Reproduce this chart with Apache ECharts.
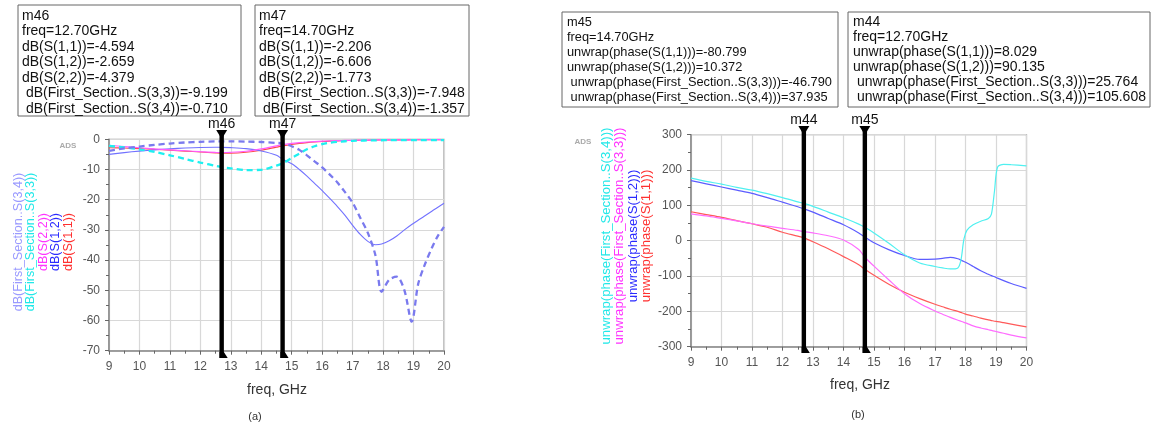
<!DOCTYPE html>
<html>
<head>
<meta charset="utf-8">
<script src="https://cdn.jsdelivr.net/npm/echarts@6/dist/echarts.min.js"></script>
<style>
html,body{margin:0;padding:0;background:#fff;}
#c{width:1165px;height:428px;}
</style>
</head>
<body>
<div id="c"></div>
<script>
// ---------- data: left panel (a), magnitude in dB ----------
const freqA = [9, 9.5, 10, 10.5, 11, 11.5, 12, 12.5, 12.7, 13, 13.5, 14, 14.5, 14.7, 15, 15.25, 15.5, 15.75, 16, 16.25, 16.5, 16.75, 17, 17.25, 17.5, 17.75, 17.95, 18.2, 18.45, 18.7, 18.94, 19.15, 19.35, 19.6, 19.8, 20];
const dbS11 = [-2.8, -2.9, -3.1, -3.35, -3.6, -3.9, -4.2, -4.5, -4.594, -4.6, -4.3, -3.6, -2.6, -2.206, -1.7, -1.35, -1.1, -0.9, -0.75, -0.62, -0.52, -0.44, -0.38, -0.33, -0.29, -0.26, -0.24, -0.22, -0.2, -0.18, -0.17, -0.16, -0.15, -0.14, -0.13, -0.12];
const dbS12 = [-5.0, -4.4, -3.9, -3.5, -3.15, -2.9, -2.72, -2.65, -2.659, -2.75, -3.1, -3.9, -5.3, -6.606, -8.1, -10.0, -12.2, -14.6, -17.0, -19.6, -22.3, -25.2, -28.5, -31.5, -33.8, -34.9, -34.7, -33.6, -32.0, -30.0, -28.2, -26.8, -25.5, -23.8, -22.5, -21.2];
const dbS22 = [-2.0, -2.4, -2.8, -3.2, -3.5, -3.8, -4.1, -4.35, -4.379, -4.3, -3.95, -3.2, -2.2, -1.773, -1.35, -1.1, -0.9, -0.75, -0.62, -0.52, -0.44, -0.38, -0.33, -0.29, -0.26, -0.23, -0.21, -0.19, -0.18, -0.17, -0.16, -0.15, -0.14, -0.13, -0.12, -0.11];
const dbS33 = [-2.2, -2.7, -3.3, -4.2, -5.3, -6.5, -7.7, -8.8, -9.199, -9.6, -10.2, -10.1, -8.7, -7.948, -6.2, -4.7, -3.3, -2.3, -1.6, -1.15, -0.85, -0.65, -0.5, -0.42, -0.37, -0.33, -0.31, -0.3, -0.29, -0.29, -0.28, -0.28, -0.28, -0.28, -0.28, -0.28];
const dbS34 = [-3.8, -3.0, -2.4, -1.85, -1.4, -1.05, -0.82, -0.71, -0.710, -0.7, -0.76, -0.9, -1.2, -1.357, -2.3, -3.5, -5.3, -7.3, -9.3, -11.7, -14.3, -17.5, -21, -26, -31, -38.5, -50.5, -46.5, -45.5, -50, -60.4, -48, -42, -36, -32, -29];

// ---------- data: right panel (b), unwrapped phase in degrees ----------
const freqB = [9, 9.5, 10, 10.5, 11, 11.5, 12, 12.5, 12.7, 13, 13.5, 14, 14.5, 14.7, 15, 15.5, 16, 16.5, 17, 17.25, 17.5, 17.75, 17.85, 17.95, 18.05, 18.25, 18.5, 18.75, 18.85, 18.95, 19.05, 19.25, 19.5, 20];
const phS34 = [177, 168, 160, 151, 143, 133, 122, 110, 105.608, 97, 81, 65, 47, 37.935, 22, -8, -40, -63, -73, -77, -80, -77, -55, 5, 30, 45, 55, 63, 75, 140, 208, 216, 215, 212];
const phS33 = [76, 70, 63, 56, 48, 41, 35, 29, 25.764, 22, 14, 2, -25, -46.790, -72, -112, -150, -178, -199, -208, -217, -225, -228, -231, -234, -241, -247, -252, -254, -256, -258, -262, -267, -275];
const phS12 = [170, 161, 152, 143, 134, 122, 109, 96, 90.135, 81, 63, 45, 22, 10.372, -6, -26, -42, -53, -52, -50, -47, -51, -55, -59, -63, -73, -85, -95, -99, -102, -106, -113, -121, -135];
const phS11 = [82, 74, 66, 57, 48, 38, 24, 13, 8.029, -3, -23, -45, -68, -80.799, -98, -124, -146, -164, -180, -187, -194, -200, -203, -206, -209, -213, -219, -224, -226, -228, -229, -232, -236, -244];

// ---------- axis ticks ----------
const xTicks = {min: 9, max: 20, step: 1};
const yTicksA = {min: -70, max: 0, step: 10};
const yTicksB = {min: -300, max: 300, step: 100};

// ---------- markers ----------
const markersA = [{name: 'm46', f: 12.7}, {name: 'm47', f: 14.7}];
const markersB = [{name: 'm44', f: 12.7}, {name: 'm45', f: 14.7}];

const boxM46 = ['m46', 'freq=12.70GHz', 'dB(S(1,1))=-4.594', 'dB(S(1,2))=-2.659', 'dB(S(2,2))=-4.379', ' dB(First_Section..S(3,3))=-9.199', ' dB(First_Section..S(3,4))=-0.710'];
const boxM47 = ['m47', 'freq=14.70GHz', 'dB(S(1,1))=-2.206', 'dB(S(1,2))=-6.606', 'dB(S(2,2))=-1.773', ' dB(First_Section..S(3,3))=-7.948', ' dB(First_Section..S(3,4))=-1.357'];
const boxM45 = ['m45', 'freq=14.70GHz', 'unwrap(phase(S(1,1)))=-80.799', 'unwrap(phase(S(1,2)))=10.372', ' unwrap(phase(First_Section..S(3,3)))=-46.790', ' unwrap(phase(First_Section..S(3,4)))=37.935'];
const boxM44 = ['m44', 'freq=12.70GHz', 'unwrap(phase(S(1,1)))=8.029', 'unwrap(phase(S(1,2)))=90.135', ' unwrap(phase(First_Section..S(3,3)))=25.764', ' unwrap(phase(First_Section..S(3,4)))=105.608'];

const legendA = [
  {t: 'dB(First_Section..S(3,4))', c: '#9a9aff'},
  {t: 'dB(First_Section..S(3,3))', c: '#22e8e8'},
  {t: 'dB(S(2,2))', c: '#ff33ff'},
  {t: 'dB(S(1,2))', c: '#2a2aff'},
  {t: 'dB(S(1,1))', c: '#ff3030'}
];
const legendB = [
  {t: 'unwrap(phase(First_Section..S(3,4)))', c: '#22e8e8'},
  {t: 'unwrap(phase(First_Section..S(3,3)))', c: '#ff33ff'},
  {t: 'unwrap(phase(S(1,2)))', c: '#2a2aff'},
  {t: 'unwrap(phase(S(1,1)))', c: '#ff3030'}
];

const FONT = '"Liberation Sans", Arial, sans-serif';
const zip = (xs, ys) => xs.map((x, i) => [x, ys[i]]);

function xAxisCfg(gi) {
  return {
    type: 'value', gridIndex: gi, min: xTicks.min, max: xTicks.max, interval: xTicks.step,
    axisLine: {show: true, onZero: false, lineStyle: {color: '#888', width: 1.5}},
    axisTick: {show: true, length: 4, lineStyle: {color: '#666'}},
    minorTick: {show: true, splitNumber: 2, length: 3, lineStyle: {color: '#666'}},
    axisLabel: {color: '#555', fontSize: 12, fontFamily: FONT, margin: 10},
    splitLine: {show: true, lineStyle: {color: '#d8d8d8', width: 1.2}}
  };
}
function yAxisCfg(gi, t) {
  return {
    type: 'value', gridIndex: gi, min: t.min, max: t.max, interval: t.step,
    axisLine: {show: true, onZero: false, lineStyle: {color: '#888', width: 1.5}},
    axisTick: {show: true, length: 4, lineStyle: {color: '#666'}},
    minorTick: {show: true, splitNumber: 2, length: 3, lineStyle: {color: '#666'}},
    axisLabel: {color: '#555', fontSize: 12, fontFamily: FONT, margin: 9},
    splitLine: {show: true, lineStyle: {color: '#d8d8d8', width: 1.2}}
  };
}
function line(gi, xs, ys, color, width, dashed, z) {
  return {
    type: 'line', xAxisIndex: gi, yAxisIndex: gi, data: zip(xs, ys), showSymbol: false, symbol: 'none',
    smooth: 0.3, z: z || 2, silent: true, animation: false,
    lineStyle: {color: color, width: width, type: dashed ? [6, 4] : 'solid'}
  };
}

const chart = echarts.init(document.getElementById('c'), null, {renderer: 'canvas'});
chart.setOption({
  animation: false,
  backgroundColor: '#fff',
  grid: [
    {left: 109, top: 139.3, width: 335, height: 211.4, show: true, borderColor: '#999', borderWidth: 1.2, backgroundColor: 'transparent'},
    {left: 691, top: 134.7, width: 335.5, height: 212, show: true, borderColor: '#999', borderWidth: 1.2, backgroundColor: 'transparent'}
  ],
  xAxis: [xAxisCfg(0), xAxisCfg(1)],
  yAxis: [yAxisCfg(0, yTicksA), yAxisCfg(1, yTicksB)],
  series: [
    line(0, freqA, dbS11, '#ff4a4a', 1.1, false, 3),
    line(0, freqA, dbS22, '#ff5cff', 1.2, false, 4),
    line(0, freqA, dbS12, '#7272ff', 1.1, false, 3),
    line(0, freqA, dbS33, '#1ef0f0', 2.3, true, 5),
    line(0, freqA, dbS34, '#7a7aee', 2.3, true, 5),
    line(1, freqB, phS11, '#ff5a5a', 1.2, false, 3),
    line(1, freqB, phS33, '#ff6cff', 1.2, false, 3),
    line(1, freqB, phS12, '#5c5cff', 1.2, false, 3),
    line(1, freqB, phS34, '#50f0f0', 1.2, false, 3)
  ]
});

function textEl(x, y, text, opts) {
  opts = opts || {};
  return {
    type: 'text', x: x, y: y, rotation: opts.rot || 0, z: opts.z || 20, silent: true,
    style: {
      text: text, font: opts.font || ('13px ' + FONT), fill: opts.fill || '#111',
      textAlign: opts.align || 'left', textVerticalAlign: opts.va || 'top',
      align: opts.align || 'left', verticalAlign: opts.va || 'top',
      lineHeight: opts.lh || 15.3
    }
  };
}
function box(x, y, w, h, lines, fontSize, lh, pad) {
  return [
    {type: 'rect', shape: {x: x, y: y, width: w, height: h}, z: 15, silent: true,
     style: {fill: '#fff', stroke: '#666', lineWidth: 1}},
    textEl(x + pad, y + 3, lines.join('\n'), {font: fontSize + 'px ' + FONT, lh: lh})
  ];
}
function markers(gi, list, top, bottom, labelY) {
  const els = [];
  list.forEach(m => {
    const px = chart.convertToPixel({gridIndex: gi}, [m.f, 0])[0];
    els.push({type: 'rect', shape: {x: px - 2.2, y: top, width: 4.4, height: bottom - top}, z: 30, silent: true, style: {fill: '#000'}});
    els.push({type: 'polygon', shape: {points: [[px - 5.5, top - 1], [px + 5.5, top - 1], [px, top + 8]]}, z: 30, silent: true, style: {fill: '#000'}});
    els.push({type: 'polygon', shape: {points: [[px - 2.2, bottom - 6], [px + 2.2, bottom - 6], [px + 6, bottom], [px - 2.2, bottom]]}, z: 30, silent: true, style: {fill: '#000'}});
    els.push(textEl(px, labelY, m.name, {align: 'center', va: 'middle', font: '14px ' + FONT}));
  });
  return els;
}
function legend(list, x0, dx, cy, size) {
  return list.map((l, i) => textEl(x0 + i * dx, cy, l.t, {rot: Math.PI / 2, align: 'center', va: 'middle', fill: l.c, font: size + 'px ' + FONT}));
}

const g = [];
box(18, 5, 223, 111, boxM46, 14, 15.5, 4).forEach(e => g.push(e));
box(255, 5, 214, 111, boxM47, 14, 15.5, 4).forEach(e => g.push(e));
box(562, 12, 276, 95, boxM45, 12.8, 15, 5).forEach(e => g.push(e));
box(848, 12, 302, 95, boxM44, 14, 15, 5).forEach(e => g.push(e));
markers(0, markersA, 131, 358, 124).forEach(e => g.push(e));
markers(1, markersB, 127, 353, 120).forEach(e => g.push(e));
legend(legendA, 18.5, 12.5, 242, 12.6).forEach(e => g.push(e));
legend(legendB, 606, 13.5, 236, 13.2).forEach(e => g.push(e));
g.push(textEl(68, 146, 'ADS', {align: 'center', va: 'middle', fill: '#aaa', font: 'bold 8px ' + FONT}));
g.push(textEl(583, 142, 'ADS', {align: 'center', va: 'middle', fill: '#aaa', font: 'bold 8px ' + FONT}));
g.push(textEl(277, 390, 'freq, GHz', {align: 'center', va: 'middle', fill: '#333', font: '14px ' + FONT}));
g.push(textEl(860, 385, 'freq, GHz', {align: 'center', va: 'middle', fill: '#333', font: '14px ' + FONT}));
g.push(textEl(255, 417, '(a)', {align: 'center', va: 'middle', fill: '#333', font: '11px ' + FONT}));
g.push(textEl(858, 415, '(b)', {align: 'center', va: 'middle', fill: '#333', font: '11px ' + FONT}));

chart.setOption({graphic: {elements: g}});
</script>
</body>
</html>
